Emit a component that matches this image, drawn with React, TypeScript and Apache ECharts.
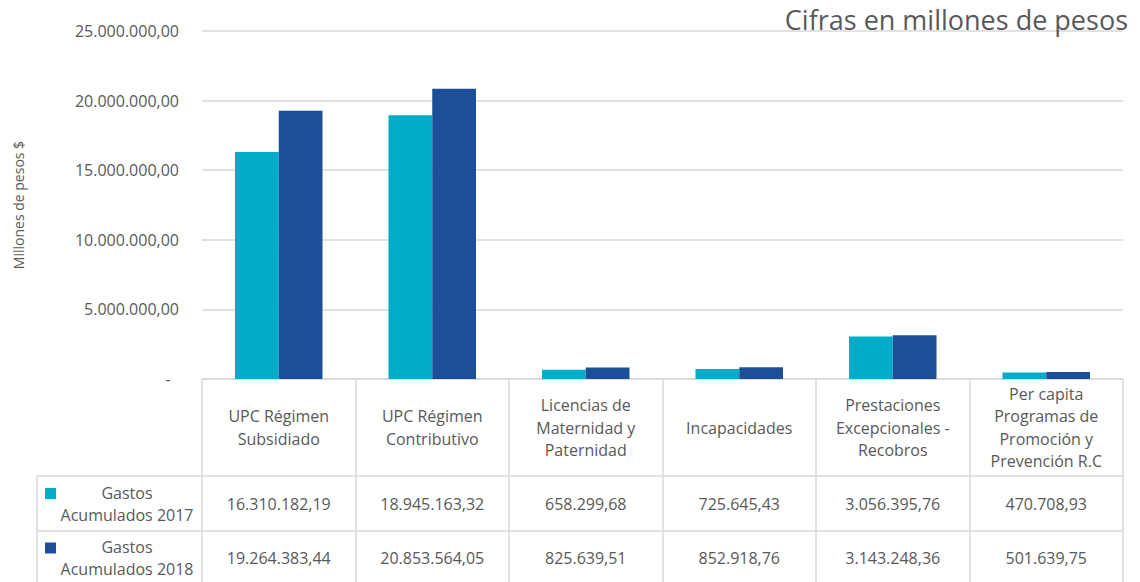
import React, { useEffect, useRef } from "react";
import * as echarts from "echarts";

const categories = [
  "UPC Régimen\nSubsidiado",
  "UPC Régimen\nContributivo",
  "Licencias de\nMaternidad y\nPaternidad",
  "Incapacidades",
  "Prestaciones\nExcepcionales -\nRecobros",
  "Per capita\nProgramas de\nPromoción y\nPrevención R.C",
];
const seriesNames = ["Gastos Acumulados 2017", "Gastos Acumulados 2018"];
const values2017 = [16310182.19, 18945163.32, 658299.68, 725645.43, 3056395.76, 470708.93];
const values2018 = [19264383.44, 20853564.05, 825639.51, 852918.76, 3143248.36, 501639.75];
const yMin = 0;
const yMax = 25000000;
const yStep = 5000000;
const titleText = "Cifras en millones de pesos";
const yAxisTitle = "Millones de pesos $";

const colors = ["#00ACC8", "#1B4F97"];
const textColor = "#595959";
const lineColor = "#D9D9D9";
const FONT = "'Open Sans', sans-serif";

function fmt(v: number): string {
  const [i, d] = v.toFixed(2).split(".");
  return i.replace(/\B(?=(\d{3})+(?!\d))/g, ".") + "," + d;
}

export default function App() {
  const ref = useRef<HTMLDivElement>(null);
  useEffect(() => {
    document.body.style.margin = "0";
    const chart = echarts.init(ref.current!, null, { renderer: "svg" });
    const gridLeft = 202;
    const gridRight = 17;
    const gridTop = 31;
    const gridBottom = 203;
    const axisY = 582 - gridBottom; // 379
    const headerBottom = 476;
    const row1Bottom = 531;
    const row2Bottom = 582;
    const tableLeft = 37;
    const tableRight = 1140 - gridRight;
    const rowsMid = [(headerBottom + row1Bottom) / 2, (row1Bottom + row2Bottom) / 2 + 1.5];
    const allValues = [values2017, values2018];

    const rowAxes = allValues.map((vals, k) => ({
      type: "category",
      data: categories,
      position: "bottom",
      gridIndex: 0,
      axisLine: { show: false },
      axisTick: { show: false },
      splitLine: { show: false },
      axisLabel: {
        interval: 0,
        margin: rowsMid[k] - axisY,
        verticalAlign: "middle",
        color: textColor,
        fontFamily: FONT,
        fontSize: 16,
        formatter: (_v: string, idx: number) => fmt(vals[idx]),
      },
    }));

    const graphics: any[] = [];
    [headerBottom, row1Bottom].forEach((y) => {
      graphics.push({
        type: "line",
        shape: { x1: tableLeft, y1: y, x2: tableRight, y2: y },
        style: { stroke: lineColor, lineWidth: 1.5 },
      });
    });
    graphics.push({
      type: "line",
      shape: { x1: tableLeft, y1: headerBottom, x2: tableLeft, y2: row2Bottom },
      style: { stroke: lineColor, lineWidth: 1.5 },
    });
    seriesNames.forEach((name, k) => {
      const cy = rowsMid[k];
      graphics.push({
        type: "rect",
        shape: { x: 45, y: cy - 15.5, width: 11, height: 11 },
        style: { fill: colors[k] },
      });
      graphics.push({
        type: "text",
        x: 127,
        y: cy,
        style: {
          text: name.replace(" ", "\n"),
          fill: textColor,
          font: `16px ${FONT}`,
          align: "center",
          verticalAlign: "middle",
          lineHeight: 22,
        },
      });
    });

    chart.setOption({
      animation: false,
      title: {
        text: titleText,
        right: 7,
        top: 1,
        textStyle: { color: textColor, fontFamily: FONT, fontSize: 27, fontWeight: "normal" },
      },
      grid: { left: gridLeft, right: gridRight, top: gridTop, bottom: gridBottom, containLabel: false },
      xAxis: [
        {
          type: "category",
          data: categories,
          position: "bottom",
          axisLine: { show: true, lineStyle: { color: lineColor, width: 1.5 } },
          axisTick: {
            show: true,
            length: 582 - axisY,
            lineStyle: { color: lineColor, width: 1.5 },
          },
          axisLabel: {
            interval: 0,
            margin: (axisY + headerBottom) / 2 - axisY,
            verticalAlign: "middle",
            color: textColor,
            fontFamily: FONT,
            fontSize: 16,
            lineHeight: 22.5,
          },
        },
        ...rowAxes,
      ],
      yAxis: {
        type: "value",
        min: yMin,
        max: yMax,
        interval: yStep,
        name: yAxisTitle,
        nameLocation: "middle",
        nameGap: 177,
        nameTextStyle: { color: textColor, fontFamily: FONT, fontSize: 14 },
        axisLine: { show: false },
        axisTick: { show: false },
        axisLabel: {
          margin: 23,
          color: textColor,
          fontFamily: FONT,
          fontSize: 16,
          formatter: (v: number) => (v === 0 ? "-  " : fmt(v)),
        },
        splitLine: { lineStyle: { color: lineColor, width: 1.5 } },
      },
      series: allValues.map((vals, k) => ({
        type: "bar",
        name: seriesNames[k],
        data: vals,
        xAxisIndex: 0,
        barGap: "0%",
        barCategoryGap: "43%",
        itemStyle: { color: colors[k] },
      })),
      graphic: graphics,
    });
    return () => chart.dispose();
  }, []);
  return <div ref={ref} style={{ width: 1140, height: 582 }} />;
}
